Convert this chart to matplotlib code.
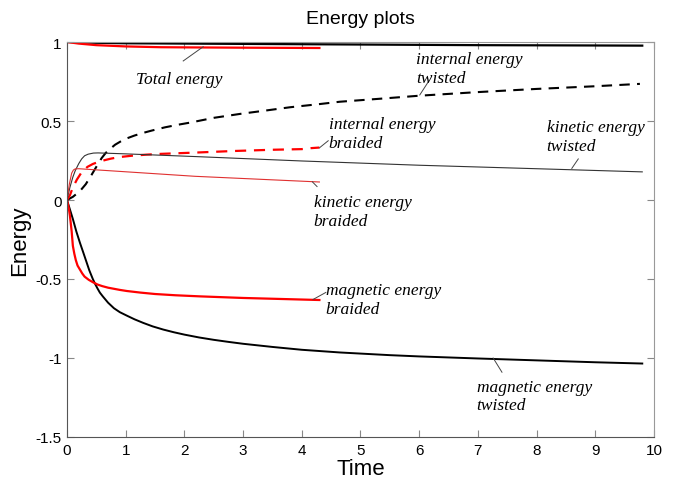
import matplotlib.pyplot as plt

# Total energy
t_tot_tw = [0, 0.5, 1, 2, 3, 4, 5, 6, 7, 8, 9, 9.8]
e_tot_tw = [1.0, 0.995, 0.992, 0.99, 0.988, 0.986, 0.984, 0.982, 0.98, 0.979, 0.978, 0.977]
t_tot_br = [0, 0.2, 0.5, 1, 1.6, 2, 3, 4.3]
e_tot_br = [1.0, 0.99, 0.98, 0.972, 0.967, 0.966, 0.964, 0.962]

# Internal energy
t_int_tw = [0, 0.1, 0.22, 0.32, 0.42, 0.5, 0.59, 0.66, 0.74, 0.82, 0.92, 1.02, 1.15, 1.3, 1.45,
            1.67, 1.9, 2.1, 2.5, 2.95, 3.4, 3.8, 4.3, 4.65, 5.3, 6.0, 7, 8, 9, 9.76]
e_int_tw = [0, 0.02, 0.056, 0.1, 0.16, 0.21, 0.265, 0.298, 0.325, 0.35, 0.372, 0.39, 0.408, 0.425,
            0.44, 0.46, 0.477, 0.49, 0.52, 0.545, 0.567, 0.587, 0.607, 0.622, 0.64, 0.66, 0.683,
            0.703, 0.72, 0.735]
t_int_br = [0, 0.05, 0.1, 0.17, 0.25, 0.35, 0.44, 0.53, 0.64, 0.75, 0.9, 1.1, 1.35, 1.6, 2.18,
            2.83, 3.5, 4.0, 4.15, 4.3]
e_int_br = [0, 0.03, 0.08, 0.13, 0.176, 0.21, 0.228, 0.24, 0.252, 0.262, 0.272, 0.28, 0.287, 0.292,
            0.3, 0.31, 0.318, 0.322, 0.328, 0.332]

# Kinetic energy
t_kin_tw = [0, 0.05, 0.1, 0.14, 0.2, 0.25, 0.3, 0.36, 0.45, 0.53, 1, 2.18, 4.0, 6.0, 8.0, 9.8]
e_kin_tw = [0, 0.08, 0.145, 0.185, 0.23, 0.26, 0.28, 0.29, 0.297, 0.298, 0.292, 0.275, 0.247,
            0.22, 0.198, 0.178]
t_kin_br = [0, 0.04, 0.08, 0.11, 0.14, 0.2, 2.18, 4.3]
e_kin_br = [0, 0.1, 0.17, 0.19, 0.197, 0.198, 0.15, 0.114]

# Magnetic energy
t_mag_tw = [0, 0.05, 0.1, 0.16, 0.22, 0.28, 0.33, 0.38, 0.44, 0.48, 0.52, 0.56, 0.61, 0.7, 0.8,
            0.9, 1.02, 1.15, 1.3, 1.46, 1.64, 1.82, 2, 2.25, 2.5, 2.75, 3, 3.5, 4, 4.65,
            5, 5.5, 6, 7, 8, 9, 9.8]
e_mag_tw = [0, -0.06, -0.12, -0.2, -0.27, -0.335, -0.39, -0.445, -0.5, -0.532, -0.56, -0.586,
            -0.61, -0.65, -0.685, -0.71, -0.732, -0.755, -0.778, -0.8, -0.82, -0.837, -0.852,
            -0.87, -0.885, -0.898, -0.91, -0.93, -0.948, -0.965, -0.972, -0.982, -0.99, -1.003,
            -1.015, -1.027, -1.035]
t_mag_br = [0, 0.03, 0.05, 0.08, 0.1, 0.125, 0.15, 0.18, 0.22, 0.26, 0.3, 0.37, 0.44, 0.52, 0.6,
            0.7, 0.8, 0.9, 1.02, 1.25, 1.5, 1.85, 2.27, 3, 3.7, 4.3]
e_mag_br = [0, -0.05, -0.1, -0.2, -0.29, -0.34, -0.38, -0.415, -0.44, -0.465, -0.485, -0.505,
            -0.52, -0.535, -0.545, -0.555, -0.562, -0.569, -0.576, -0.586, -0.595, -0.603, -0.61,
            -0.62, -0.627, -0.633]

fig = plt.figure(figsize=(6.78, 4.81), dpi=100)
ax = fig.add_axes([0.0988, 0.0894, 0.8658, 0.8212])

ax.plot(t_tot_tw, e_tot_tw, color='black', lw=1.6)
ax.plot(t_tot_br, e_tot_br, color='red', lw=1.6)
ax.plot(t_int_tw, e_int_tw, color='black', lw=1.5, ls=(0, (5, 3.5)))
ax.plot(t_int_br, e_int_br, color='red', lw=1.6, ls=(0, (5, 3.5)))
ax.plot(t_kin_tw, e_kin_tw, color='#333333', lw=0.8)
ax.plot(t_kin_br, e_kin_br, color='#e03030', lw=0.8)
ax.plot(t_mag_tw, e_mag_tw, color='black', lw=1.4)
ax.plot(t_mag_br, e_mag_br, color='red', lw=1.6)

ax.set_xlim(0, 10)
ax.set_ylim(-1.5, 1)
ax.set_xticks(range(0, 11))
ax.set_yticks([-1.5, -1, -0.5, 0, 0.5, 1])
ax.set_yticklabels(['-1.5', '-1', '-0.5', '0', '0.5', '1'])
ax.tick_params(direction='in', length=5, color='#888888', top=True, right=True,
               labelsize=11, pad=4)
for lab in ax.get_xticklabels() + ax.get_yticklabels():
    lab.set_fontfamily('Liberation Sans')
for s in ['left', 'bottom']:
    ax.spines[s].set_color('#555555')
for s in ['top', 'right']:
    ax.spines[s].set_color('#999999')

ax.set_title('Energy plots', fontsize=14, family='Liberation Sans', pad=14)
ax.set_xlabel('Time', fontsize=16, family='Liberation Sans', labelpad=1)
ax.set_ylabel('Energy', fontsize=16, family='Liberation Sans', labelpad=4)

# curve labels with short pointer lines
lab_kw = dict(fontsize=12.5, family='Liberation Serif', style='italic', va='top', ha='left',
              linespacing=1.2)
ax.text(1.17, 0.815, 'Total energy', **lab_kw)
ax.plot([1.98, 2.32], [0.88, 0.97], color='#444444', lw=0.7)
ax.text(5.95, 0.94, 'internal energy\ntwisted', **lab_kw)
ax.plot([6.01, 6.15], [0.665, 0.745], color='#444444', lw=0.7)
ax.text(4.46, 0.53, 'internal energy\nbraided', **lab_kw)
ax.plot([4.3, 4.45], [0.33, 0.375], color='#444444', lw=0.7)
ax.text(8.17, 0.51, 'kinetic energy\ntwisted', **lab_kw)
ax.plot([8.6, 8.71], [0.2, 0.26], color='#444444', lw=0.7)
ax.text(4.2, 0.035, 'kinetic energy\nbraided', **lab_kw)
ax.plot([4.18, 4.26], [0.115, 0.085], color='#444444', lw=0.7)
ax.text(4.41, -0.52, 'magnetic energy\nbraided', **lab_kw)
ax.plot([4.19, 4.41], [-0.63, -0.585], color='#444444', lw=0.7)
ax.text(6.98, -1.13, 'magnetic energy\ntwisted', **lab_kw)
ax.plot([7.26, 7.41], [-1.0, -1.09], color='#444444', lw=0.7)

fig.savefig('out.png')
